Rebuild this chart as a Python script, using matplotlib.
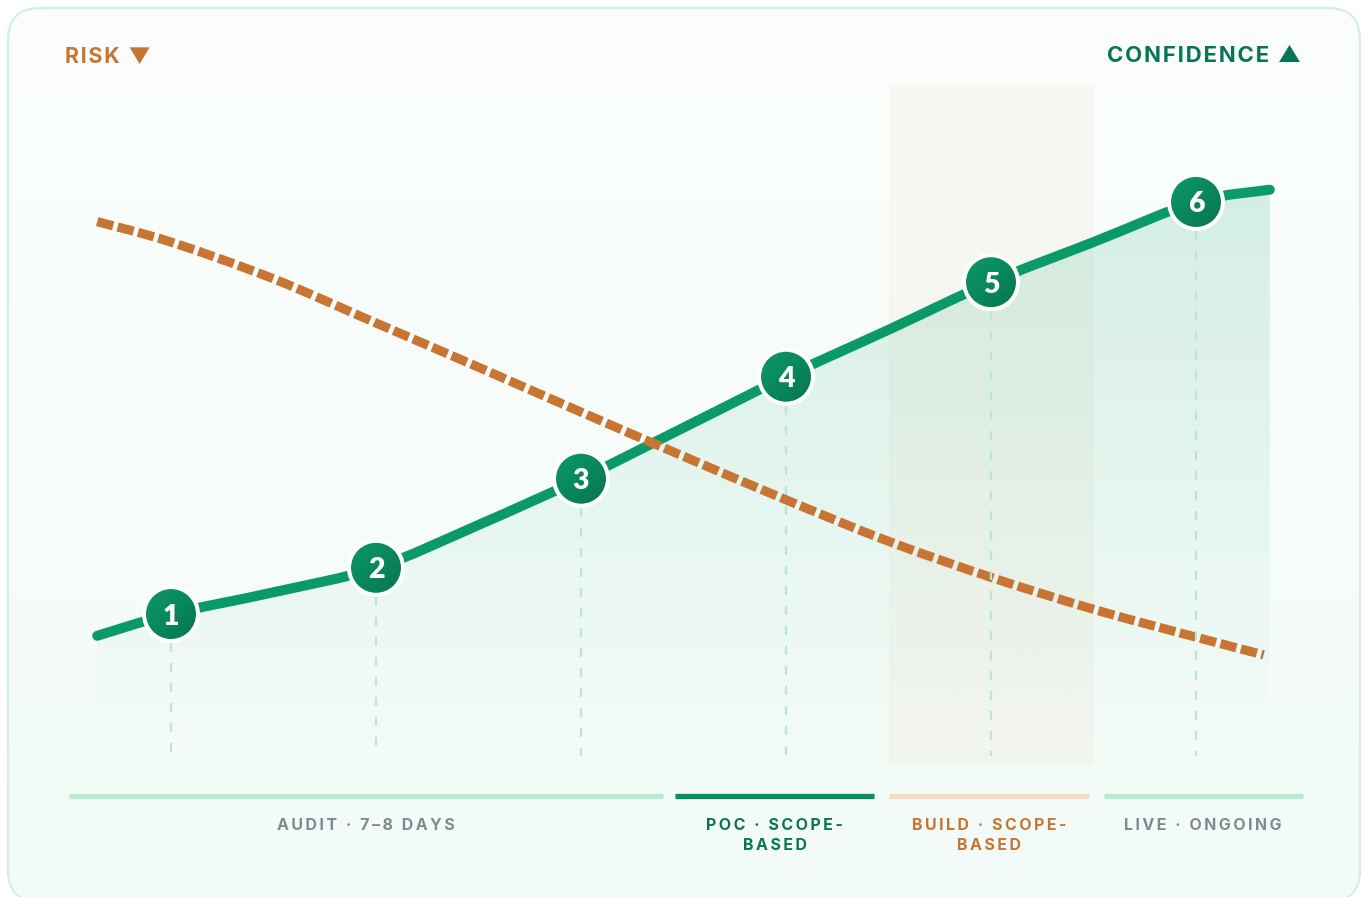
import numpy as np
import matplotlib.pyplot as plt
from matplotlib.patches import FancyBboxPatch, Rectangle, PathPatch, Ellipse
from matplotlib.path import Path
from matplotlib.colors import to_rgb

# Canvas size in pixels
W, H = 1366, 897

# Milestones along the journey
steps = [1, 2, 3, 4, 5, 6]
step_labels = ['1', '2', '3', '4', '5', '6']

# Confidence curve (solid, rising) and risk curve (dashed, falling), 0-100 scale
curve_x = [0.64, 1.0, 1.5, 2.0, 2.5, 3.0, 3.5, 4.0, 4.5, 5.0, 5.5, 6.0, 6.36]
confidence = [19.0, 22.2, 25.4, 29.0, 35.3, 42.1, 49.6, 57.1, 64.0, 71.0, 76.9, 82.8, 84.6]
risk_x = [0.64, 1.0, 1.5, 2.0, 2.5, 3.0, 3.5, 4.0, 4.5, 5.0, 5.5, 6.0, 6.33]
risk = [79.9, 76.9, 71.5, 65.0, 58.5, 51.9, 45.4, 39.0, 32.9, 27.6, 22.9, 18.8, 16.2]

# Phases shown under the chart
phase_names = ['AUDIT · 7–8 DAYS', 'POC · SCOPE-\nBASED', 'BUILD · SCOPE-\nBASED', 'LIVE · ONGOING']
phase_start = [0.5, 3.46, 4.5, 5.55]
phase_end = [3.4, 4.43, 5.48, 6.52]
phase_bar_colors = ['#bce9d4', '#079068', '#f2dcc4', '#bce9d4']
phase_text_colors = ['#7d8b91', '#0a7553', '#c87533', '#7d8b91']

# Highlighted phase (build)
build_span = (4.5, 5.5)

GREEN = '#0a9a6a'
GREEN_DARK = '#0a7553'
ORANGE = '#c87533'
FONT = ['Inter', 'DejaVu Sans']

# pixel scale of the chart axes
PX_X = 205.0   # pixels per step
PX_Y = 6.8     # pixels per unit


def spaced(s, sep='\u200a'):
    return '\n'.join(sep.join(line) for line in s.split('\n'))


def smooth_path(xs, ys):
    # Catmull-Rom through the read points, drawn as cubic Bezier segments
    pts = np.column_stack([xs, ys]).astype(float)
    verts = [pts[0]]
    codes = [Path.MOVETO]
    n = len(pts)
    for i in range(n - 1):
        p0 = pts[i - 1] if i > 0 else pts[i]
        p1, p2 = pts[i], pts[i + 1]
        p3 = pts[i + 2] if i + 2 < n else pts[i + 1]
        verts += [p1 + (p2 - p0) / 6, p2 - (p3 - p1) / 6, p2]
        codes += [Path.CURVE4] * 3
    return verts, codes


fig = plt.figure(figsize=(W / 100, H / 100), dpi=100)
fig.patch.set_facecolor('white')

# Background card in pixel coordinates (y up)
bg = fig.add_axes([0, 0, 1, 1])
bg.axis('off')
card = FancyBboxPatch((8, H - 902), 1352, 894, boxstyle='round,pad=0,rounding_size=32',
                      facecolor='none', edgecolor='#d3efe3', linewidth=1.6, zorder=3)
bg.add_patch(card)
top_c = np.array(to_rgb('#fbfefd'))
bot_c = np.array(to_rgb('#f2fbf7'))
t = np.linspace(0, 1, 256)[:, None]
grad = (top_c[None, :] * (1 - t) + bot_c[None, :] * t)[:, None, :]
img = bg.imshow(grad, extent=(0, W, 0, H), aspect='auto', zorder=1, origin='upper')
img.set_clip_path(card)
bg.set_xlim(0, W)
bg.set_ylim(0, H)

bg.text(65, H - 56, spaced('RISK ▼'), color=ORANGE, fontsize=15.5, fontweight='bold',
        family=FONT, ha='left', va='center')
bg.text(1301, H - 56, spaced('CONFIDENCE ▲'), color=GREEN_DARK, fontsize=16, fontweight='bold',
        family=FONT, ha='right', va='center')

# Main chart axes: x in step units, y on 0-100 scale
ax = fig.add_axes([0, 0, 1, 1])
xlim = (1 - 171 / PX_X, 1 + (W - 171) / PX_X)
ylim = ((765 - H) / PX_Y, 765 / PX_Y)
ax.patch.set_alpha(0)
ax.axis('off')

# Build phase shading
ax.add_patch(Rectangle((build_span[0], 0), build_span[1] - build_span[0], 100,
                       facecolor='#efe4ce', alpha=0.22, edgecolor='none', zorder=1))

# Gradient fill under confidence curve
base = 1.5
cv, cc = smooth_path(curve_x, confidence)
fill_path = Path(cv + [(curve_x[-1], base), (curve_x[0], base), (curve_x[0], base)],
                 cc + [Path.LINETO, Path.LINETO, Path.CLOSEPOLY])
g = np.array(to_rgb('#13a070'))
ys = np.linspace(1, 0, 256)[:, None]
fill_img = np.zeros((256, 1, 4))
fill_img[..., :3] = g
fill_img[..., 3] = 0.16 * ys ** 1.05
top = max(confidence)
im2 = ax.imshow(fill_img, extent=(curve_x[0], curve_x[-1], base, top), aspect='auto',
                zorder=2, interpolation='bilinear')
im2.set_clip_path(fill_path, ax.transData)

# Confidence line
ax.add_patch(PathPatch(Path(cv, cc), fill=False, edgecolor=GREEN, lw=7.2,
                       capstyle='round', joinstyle='round', zorder=4))

# Risk line (dashed)
rv, rc = smooth_path(risk_x, risk)
ax.add_patch(PathPatch(Path(rv, rc), fill=False, edgecolor=ORANGE, lw=6.6,
                       linestyle=(0, (1.8, 0.5)), capstyle='butt', joinstyle='round',
                       zorder=5))

# Marker fill: diagonal green gradient
u = np.linspace(0, 1, 64)
tt = (u[None, :] + u[:, None]) / 2
c0 = np.array(to_rgb('#0c9a6b'))
c1 = np.array(to_rgb('#06744f'))
badge = c0 * (1 - tt[..., None]) + c1 * tt[..., None]

# Milestone guides and markers
r_px = 27
conf_at_steps = [confidence[curve_x.index(s)] for s in steps]
for s, cy, lab in zip(steps, conf_at_steps, step_labels):
    ax.plot([s, s], [cy - 4.3, 1.3], color='#b8e7d2', lw=1.6,
            linestyle=(0, (4, 5)), zorder=6)
    rx, ry = r_px / PX_X, r_px / PX_Y
    circ = Ellipse((s, cy), 2 * rx, 2 * ry, facecolor='none', edgecolor='none', zorder=7)
    ax.add_patch(circ)
    bi = ax.imshow(badge, extent=(s - rx, s + rx, cy - ry, cy + ry), origin='upper',
                   aspect='auto', zorder=7, interpolation='bilinear')
    bi.set_clip_path(circ)
    ax.add_patch(Ellipse((s, cy), 2 * rx, 2 * ry, facecolor='none', edgecolor='white',
                         lw=2.9, zorder=7.5))
    ax.text(s, cy, lab, color='white', fontsize=20.5, fontweight='heavy',
            family=['Lato', 'DejaVu Sans'], ha='center', va='center_baseline', zorder=8)

# Phase bars and labels
bar_y = (765 - 796) / PX_Y
for name, x0, x1, bc, tc in zip(phase_names, phase_start, phase_end,
                                 phase_bar_colors, phase_text_colors):
    ax.plot([x0, x1], [bar_y, bar_y], color=bc, lw=3.8, solid_capstyle='butt', zorder=3)
    ax.text((x0 + x1) / 2, (765 - 818) / PX_Y, spaced(name, '\u2009'), color=tc,
            fontsize=11.5, fontweight='bold', family=FONT, ha='center', va='top',
            multialignment='center', linespacing=1.45, zorder=3)

ax.set_xlim(*xlim)
ax.set_ylim(*ylim)

fig.savefig('out.png', dpi=100, facecolor='white')
